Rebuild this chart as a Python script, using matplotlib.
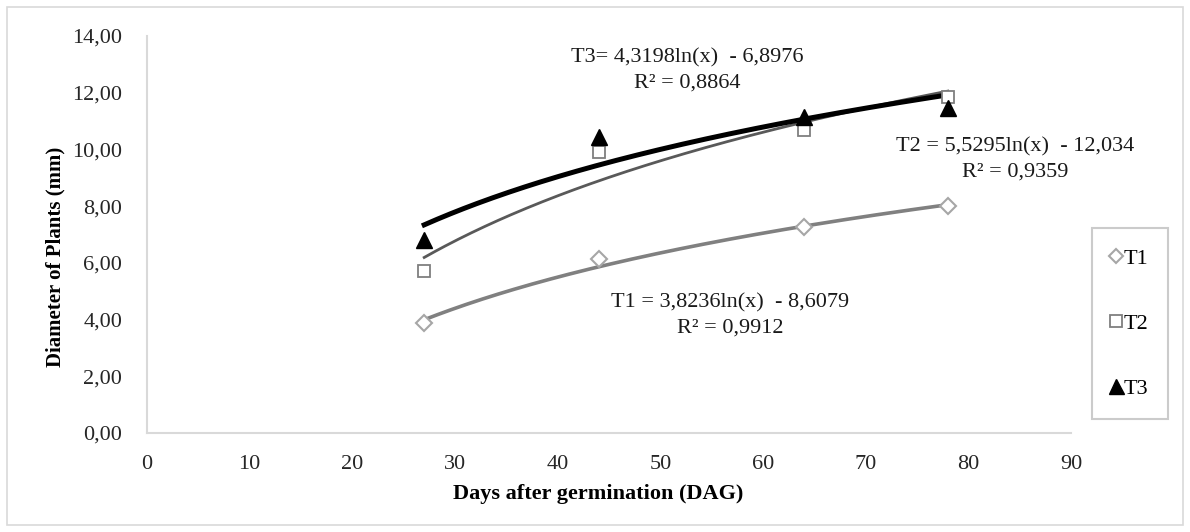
import numpy as np
import matplotlib
matplotlib.use("Agg")
import matplotlib.pyplot as plt
from matplotlib.patches import Rectangle

plt.rcParams['font.family'] = ['Liberation Serif', 'DejaVu Serif']

# dados
days = [27, 44, 64, 78]
t1 = [3.88, 6.15, 7.25, 8.00]
t2 = [5.70, 9.90, 10.70, 11.85]
t3 = [6.80, 10.45, 11.15, 11.45]

# coeficientes das linhas de tendência (a*ln(x) + b)
coef_t1 = [3.8236, -8.6079]
coef_t2 = [5.5295, -12.034]
coef_t3 = [4.3198, -6.8976]

eq_t1 = ["T1 = 3,8236ln(x)  - 8,6079", "R² = 0,9912"]
eq_t2 = ["T2 = 5,5295ln(x)  - 12,034", "R² = 0,9359"]
eq_t3 = ["T3= 4,3198ln(x)  - 6,8976", "R² = 0,8864"]

xticks = list(range(0, 100, 10))
yticks = [0, 2, 4, 6, 8, 10, 12, 14]

W, H = 1190, 532
fig = plt.figure(figsize=(W / 100, H / 100), dpi=100)
ax = fig.add_axes([147 / W, 1 - 433 / H, (1071 - 147) / W, (433 - 36) / H])

# borda externa
fig.patches.append(Rectangle((7 / W, 7 / H), 1 - 14 / W, 1 - 14 / H,
                             transform=fig.transFigure, fill=False,
                             edgecolor='#d9d9d9', linewidth=1.2))

xs = np.linspace(days[0], days[-1], 200)
ax.plot(xs, coef_t1[0] * np.log(xs) + coef_t1[1], color='#808080', lw=2.6, zorder=2)
ax.plot(xs, coef_t2[0] * np.log(xs) + coef_t2[1], color='#595959', lw=2.0, zorder=2)
ax.plot(xs, coef_t3[0] * np.log(xs) + coef_t3[1], color='black', lw=3.6, zorder=2)

ax.plot(days, t1, ls='none', marker='D', ms=8, mfc='white', mec='#a6a6a6', mew=1.5,
        label='T1', zorder=3)
ax.plot(days, t2, ls='none', marker='s', ms=9, mfc='white', mec='#7f7f7f', mew=1.3,
        label='T2', zorder=3)
ax.plot(days, t3, ls='none', marker='^', ms=12, color='black', label='T3', zorder=4)

ax.set_xlim(0, 90)
ax.set_ylim(0, 14)
ax.set_xticks(xticks)
ax.set_yticks(yticks)
ax.set_xticklabels([str(v) for v in xticks])
ax.set_yticklabels([f"{v:.2f}".replace('.', ',') for v in yticks])
ax.tick_params(length=0, labelsize=16, colors='#262626')
ax.tick_params(axis='x', pad=16)
ax.tick_params(axis='y', pad=18)

for s in ['top', 'right']:
    ax.spines[s].set_visible(False)
for s in ['left', 'bottom']:
    ax.spines[s].set_color('#d9d9d9')
    ax.spines[s].set_linewidth(1.5)

ax.set_xlabel("Days after germination (DAG)", fontsize=16, fontweight='bold')
ax.set_ylabel("Diameter of Plants (mm)", fontsize=15, fontweight='bold')
ax.xaxis.set_label_coords((598 - 147) / (1071 - 147), -(494 - 433) / (433 - 36))
ax.yaxis.set_label_coords(-(147 - 55) / (1071 - 147), (433 - 257) / (433 - 36))
ax.xaxis.label.set_va('center')
ax.yaxis.label.set_va('center')

def put_eq(lines, cx, cy):
    for i, t in enumerate(lines):
        fig.text(cx / W, 1 - (cy + i * 25) / H, t, ha='center', va='center',
                 fontsize=16, color='#1a1a1a')

put_eq(eq_t3, 687, 58)
put_eq(eq_t2, 1015, 147)
put_eq(eq_t1, 730, 303)

leg = fig.legend(loc='upper left', bbox_to_anchor=(1092 / W, 1 - 228 / H),
                 fontsize=16, frameon=True, fancybox=False, handlelength=0.4,
                 handletextpad=0.1, labelspacing=2.0, borderpad=0.9,
                 borderaxespad=0, markerscale=0.9)
leg.get_frame().set_edgecolor('#bfbfbf')
leg.get_frame().set_linewidth(1.5)

plt.savefig("out.png", dpi=100)
